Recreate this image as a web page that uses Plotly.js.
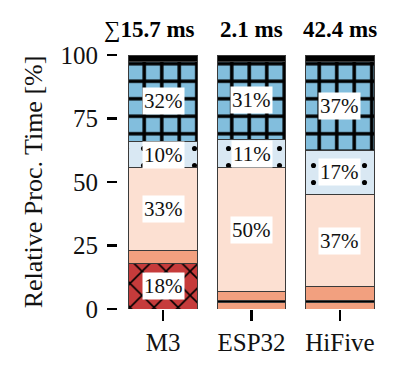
<!DOCTYPE html>
<html><head><meta charset="utf-8">
<script src="https://cdn.plot.ly/plotly-3.0.1.min.js"></script>
<style>html,body{margin:0;padding:0;background:#fff}#chart{width:406px;height:373px}</style>
</head><body><div id="chart"></div>
<script>
const categories = ['M3', 'ESP32', 'HiFive'];
const totals = ['15.7 ms', '2.1 ms', '42.4 ms'];
// stacked segments, bottom to top (percent)
const redPart = [18.0, 0, 0];
const salmonLow = [0, 2.5, 2.6];
const blackMid = [0, 1.0, 0.9];
const salmonPart = [5.0, 3.3, 5.2];
const peachPart = [32.6, 49.0, 36.5];
const lightBluePart = [10.2, 10.8, 17.3];
const bluePart = [31.8, 31.0, 35.1];
const blackTop = [2.4, 2.4, 2.4];
const redLabels = ['18%', '', ''];
const peachLabels = ['33%', '50%', '37%'];
const lightBlueLabels = ['10%', '11%', '17%'];
const blueLabels = ['32%', '31%', '37%'];
const yTicks = [0, 25, 50, 75, 100];

const serif = 'Liberation Serif, DejaVu Serif, serif';
const edge = {color: '#3a3a3a', width: 1};
const series = [
  {y: redPart, color: '#c63b3b', pattern: {shape: 'x', fgcolor: '#000', size: 17, solidity: 0.18, fillmode: 'replace'}, labels: redLabels},
  {y: salmonLow, color: '#f2a07f'},
  {y: blackMid, color: '#000000'},
  {y: salmonPart, color: '#f2a07f'},
  {y: peachPart, color: '#fce0d2', labels: peachLabels},
  {y: lightBluePart, color: '#d9e8f3', pattern: {shape: '.', fgcolor: '#000', size: 17, solidity: 0.07, fillmode: 'replace'}, labels: lightBlueLabels},
  {y: bluePart, color: '#82bedd', pattern: {shape: '+', fgcolor: '#000', size: 17.5, solidity: 0.36, fillmode: 'replace'}, labels: blueLabels},
  {y: blackTop, color: '#000000'}
];
const W = 0.77;
const traces = series.map(s => {
  const m = {color: s.color, line: edge};
  if (s.pattern) m.pattern = Object.assign({bgcolor: s.color}, s.pattern);
  return {type: 'bar', x: [0, 1, 2], y: s.y, width: W, marker: m, hoverinfo: 'skip', showlegend: false};
});
const annotations = [];
const cum = [0, 0, 0];
series.forEach(s => {
  s.y.forEach((v, i) => {
    if (s.labels && s.labels[i]) {
      annotations.push({x: i, y: cum[i] + v / 2, xref: 'x', yref: 'y', text: s.labels[i], showarrow: false,
        bgcolor: '#ffffff', borderpad: 1, font: {family: serif, size: 21, color: '#111'}});
    }
    cum[i] += v;
  });
});
totals.forEach((t, i) => {
  if (i === 0) {
    annotations.push({x: i + W / 2, y: 100, xref: 'x', yref: 'y', xanchor: 'right', yanchor: 'bottom', yshift: 11,
      text: '∑<b>' + t + '</b>', showarrow: false, font: {family: serif, size: 23, color: '#000'}});
  } else {
    annotations.push({x: i, y: 100, xref: 'x', yref: 'y', xanchor: 'center', yanchor: 'bottom', yshift: 11,
      text: '<b>' + t + '</b>', showarrow: false, font: {family: serif, size: 23, color: '#000'}});
  }
});
const layout = {
  width: 406, height: 373,
  margin: {l: 118, r: 21, t: 55, b: 64, pad: 0},
  paper_bgcolor: '#fff', plot_bgcolor: '#fff',
  barmode: 'stack', bargap: 0,
  xaxis: {range: [-0.509, 2.509], tickvals: [0, 1, 2], ticktext: categories, showgrid: false, zeroline: false, showline: false,
    ticks: 'outside', ticklen: 11, tickwidth: 2.5, tickcolor: '#000', tickfont: {family: serif, size: 25, color: '#111'}},
  yaxis: {range: [0, 100], tickvals: yTicks, showgrid: false, zeroline: false, showline: false,
    ticks: 'outside', ticklen: 10, tickwidth: 2.5, tickcolor: '#000', ticklabelstandoff: 4,
    tickfont: {family: serif, size: 25, color: '#111'},
    title: {text: 'Relative Proc. Time [%]', font: {family: serif, size: 26, color: '#111'}, standoff: 10}},
  annotations: annotations
};
Plotly.newPlot('chart', traces, layout, {displayModeBar: false, staticPlot: true});
</script></body></html>
